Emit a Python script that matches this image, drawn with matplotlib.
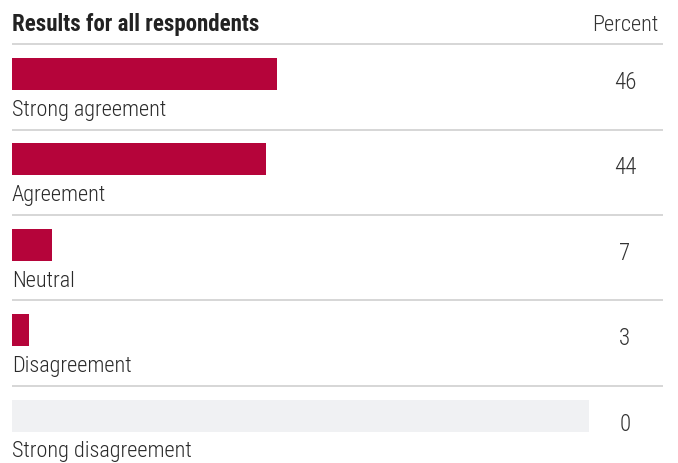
import matplotlib
matplotlib.use("Agg")
import matplotlib.pyplot as plt

# data
categories = ["Strong agreement", "Agreement", "Neutral", "Disagreement", "Strong disagreement"]
percent = [46, 44, 7, 3, 0]
title = "Results for all respondents"
value_header = "Percent"

bar_color = "#b5043a"
empty_color = "#f0f1f3"
line_color = "#d3d3d3"

plt.rcParams["font.family"] = ["Roboto Condensed", "Liberation Sans Narrow", "DejaVu Sans Condensed", "Roboto"]

fig = plt.figure(figsize=(6.78, 4.63), dpi=100)
ax = fig.add_axes([0, 0, 1, 1])
ax.set_xlim(-2.08, 115.4)
ax.set_ylim(4.555, -0.8665)
ax.axis("off")

for i, (cat, val) in enumerate(zip(categories, percent)):
    if val == 0:
        ax.barh(i, 100, height=0.375, color=empty_color, align="center")
    else:
        ax.barh(i, val, height=0.375, color=bar_color, align="center")
    ax.text(0, i + 0.49, cat, fontsize=16, fontweight="light", color="#2a2a2a",
            va="baseline", ha="left")
    ax.text(106.2, i + 0.175, str(val), fontsize=16.5, fontweight="light", color="#333333",
            va="baseline", ha="center")
    ax.plot([0, 112.8], [i - 0.35, i - 0.35], color=line_color, lw=1.3, solid_capstyle="butt")

ax.text(0, -0.5, title, fontsize=16.5, fontweight="bold", color="#222222", va="baseline", ha="left")
ax.text(106.2, -0.5, value_header, fontsize=16, fontweight="light", color="#333333",
        va="baseline", ha="center")

fig.savefig("out.png", dpi=100)
